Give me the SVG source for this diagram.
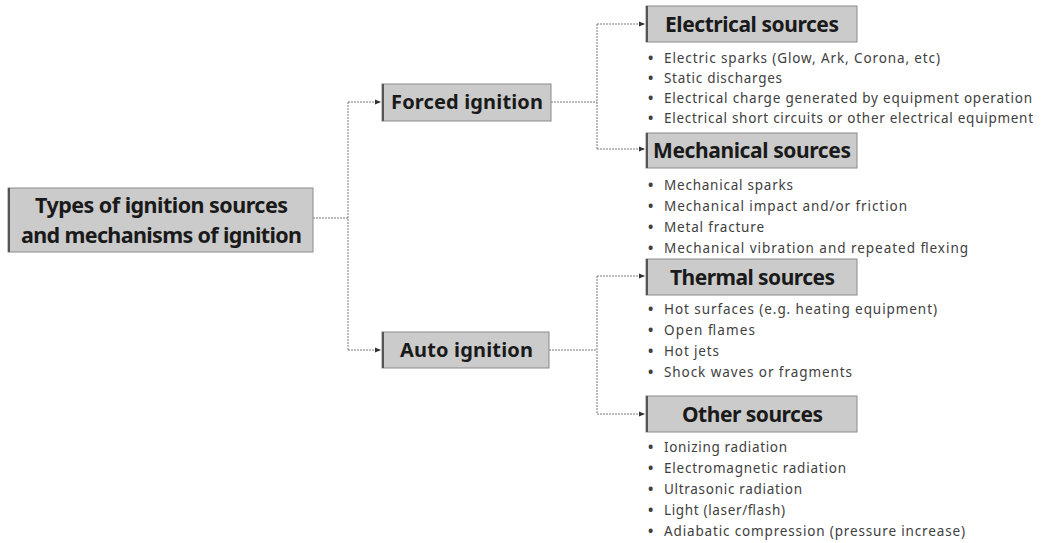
<svg xmlns="http://www.w3.org/2000/svg" width="1049" height="543" viewBox="0 0 1049 543">
  <style>
    .box { fill: #cbcbcb; stroke: #8a8a8a; stroke-width: 1; }
    .edge { stroke: #555; stroke-width: 2; }
    .head { font-family: "Noto Sans", "Open Sans", sans-serif; font-weight: bold; fill: #1a1a1a; text-anchor: middle; }
    .item { font-family: "Noto Sans", "Open Sans", sans-serif; font-size: 13.5px; fill: #404040; }
    .dot { font-family: "Noto Sans", sans-serif; font-size: 14px; font-weight: bold; fill: #404040; }
    .link { fill: none; stroke: #7a7a7a; stroke-width: 1; stroke-dasharray: 2 1; }
    .arrow { fill: none; stroke: #7a7a7a; stroke-width: 1; stroke-dasharray: 2 1; marker-end: url(#tip); }
  </style>
  <defs>
    <marker id="tip" viewBox="0 0 6 6" refX="6" refY="3" markerWidth="6" markerHeight="6" markerUnits="userSpaceOnUse" orient="auto">
      <path d="M0,0.5 L6,3 L0,5.5 Z" fill="#333"/>
    </marker>
  </defs>
  <rect width="1049" height="543" fill="#fff"/>

  <g id="connectors">
    <path class="link" d="M313,218 H348 M348,102 V350"/>
    <path class="arrow" d="M348,102 H381"/>
    <path class="arrow" d="M348,350 H381"/>
    <path class="link" d="M551,102 H597 M597,24 V149"/>
    <path class="arrow" d="M597,24 H645"/>
    <path class="arrow" d="M597,149 H645"/>
    <path class="link" d="M549,350 H597 M597,276 V414"/>
    <path class="arrow" d="M597,276 H645"/>
    <path class="arrow" d="M597,414 H645"/>
  </g>

  <g id="root">
    <rect class="box" x="8" y="188" width="305" height="64"/>
    <line class="edge" x1="9" y1="188" x2="9" y2="252"/>
    <text class="head" font-size="21.5" x="161.5" y="213" textLength="253" lengthAdjust="spacing">Types of ignition sources</text>
    <text class="head" font-size="21.5" x="161.5" y="243" textLength="281" lengthAdjust="spacing">and mechanisms of ignition</text>
  </g>

  <g id="forced">
    <rect class="box" x="382" y="84" width="169" height="37"/>
    <line class="edge" x1="383" y1="84" x2="383" y2="121"/>
    <text class="head" font-size="20" x="467" y="109" textLength="152" lengthAdjust="spacing">Forced ignition</text>
  </g>

  <g id="auto">
    <rect class="box" x="382" y="332" width="167" height="36"/>
    <line class="edge" x1="383" y1="332" x2="383" y2="368"/>
    <text class="head" font-size="20" x="466.5" y="357" textLength="133" lengthAdjust="spacing">Auto ignition</text>
  </g>

  <g id="electrical">
    <rect class="box" x="646" y="6" width="211" height="36"/>
    <line class="edge" x1="647" y1="6" x2="647" y2="42"/>
    <text class="head" font-size="21" x="752" y="31.5" textLength="174" lengthAdjust="spacing">Electrical sources</text>
    <text class="dot" x="648" y="62.5">•</text>
    <text class="item" x="664" y="62.5" textLength="276" lengthAdjust="spacing">Electric sparks (Glow, Ark, Corona, etc)</text>
    <text class="dot" x="648" y="82.5">•</text>
    <text class="item" x="664" y="82.5" textLength="118" lengthAdjust="spacing">Static discharges</text>
    <text class="dot" x="648" y="102.5">•</text>
    <text class="item" x="664" y="102.5" textLength="368" lengthAdjust="spacing">Electrical charge generated by equipment operation</text>
    <text class="dot" x="648" y="122.5">•</text>
    <text class="item" x="664" y="122.5" textLength="369" lengthAdjust="spacing">Electrical short circuits or other electrical equipment</text>
  </g>

  <g id="mechanical">
    <rect class="box" x="646" y="133" width="211" height="35"/>
    <line class="edge" x1="647" y1="133" x2="647" y2="168"/>
    <text class="head" font-size="21" x="752" y="158" textLength="198" lengthAdjust="spacing">Mechanical sources</text>
    <text class="dot" x="648" y="189.5">•</text>
    <text class="item" x="664" y="189.5" textLength="129" lengthAdjust="spacing">Mechanical sparks</text>
    <text class="dot" x="648" y="210.5">•</text>
    <text class="item" x="664" y="210.5" textLength="243" lengthAdjust="spacing">Mechanical impact and/or friction</text>
    <text class="dot" x="648" y="231.5">•</text>
    <text class="item" x="664" y="231.5" textLength="100" lengthAdjust="spacing">Metal fracture</text>
    <text class="dot" x="648" y="252.5">•</text>
    <text class="item" x="664" y="252.5" textLength="304" lengthAdjust="spacing">Mechanical vibration and repeated flexing</text>
  </g>

  <g id="thermal">
    <rect class="box" x="646" y="259" width="211" height="36"/>
    <line class="edge" x1="647" y1="259" x2="647" y2="295"/>
    <text class="head" font-size="21" x="752.5" y="284.5" textLength="165" lengthAdjust="spacing">Thermal sources</text>
    <text class="dot" x="648" y="313.5">•</text>
    <text class="item" x="664" y="313.5" textLength="273" lengthAdjust="spacing">Hot surfaces (e.g. heating equipment)</text>
    <text class="dot" x="648" y="334.5">•</text>
    <text class="item" x="664" y="334.5" textLength="91" lengthAdjust="spacing">Open flames</text>
    <text class="dot" x="648" y="355.5">•</text>
    <text class="item" x="664" y="355.5" textLength="55" lengthAdjust="spacing">Hot jets</text>
    <text class="dot" x="648" y="376.5">•</text>
    <text class="item" x="664" y="376.5" textLength="188" lengthAdjust="spacing">Shock waves or fragments</text>
  </g>

  <g id="other">
    <rect class="box" x="646" y="396" width="211" height="36"/>
    <line class="edge" x1="647" y1="396" x2="647" y2="432"/>
    <text class="head" font-size="21" x="752.5" y="421.5" textLength="141" lengthAdjust="spacing">Other sources</text>
    <text class="dot" x="648" y="451.5">•</text>
    <text class="item" x="664" y="451.5" textLength="123" lengthAdjust="spacing">Ionizing radiation</text>
    <text class="dot" x="648" y="472.5">•</text>
    <text class="item" x="664" y="472.5" textLength="182" lengthAdjust="spacing">Electromagnetic radiation</text>
    <text class="dot" x="648" y="493.5">•</text>
    <text class="item" x="664" y="493.5" textLength="138" lengthAdjust="spacing">Ultrasonic radiation</text>
    <text class="dot" x="648" y="514.5">•</text>
    <text class="item" x="664" y="514.5" textLength="121" lengthAdjust="spacing">Light (laser/flash)</text>
    <text class="dot" x="648" y="535.5">•</text>
    <text class="item" x="664" y="535.5" textLength="301" lengthAdjust="spacing">Adiabatic compression (pressure increase)</text>
  </g>
</svg>
